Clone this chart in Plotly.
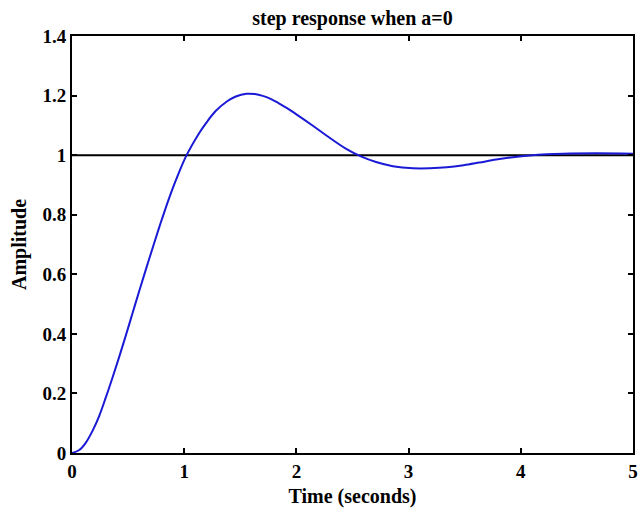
import plotly.graph_objects as go

# Step response samples
time_s = [0.0, 0.065, 0.124, 0.184, 0.243, 0.30, 0.36, 0.42, 0.48, 0.54, 0.60, 0.66, 0.72, 0.79,
          0.865, 0.925, 1.015, 1.13, 1.19, 1.28, 1.38, 1.46, 1.555, 1.63, 1.7, 1.77, 1.84, 1.92, 2.0,
          2.15, 2.29, 2.44, 2.58, 2.71, 2.86, 3.04, 3.19, 3.34, 3.49, 3.63, 3.78, 3.93, 4.08, 4.23,
          4.38, 4.67, 5.0]
amplitude = [0.0, 0.010, 0.035, 0.075, 0.125, 0.185, 0.252, 0.322, 0.395, 0.470, 0.545, 0.618, 0.690, 0.772,
             0.855, 0.915, 0.995, 1.072, 1.105, 1.148, 1.180, 1.197, 1.206, 1.205, 1.199, 1.189, 1.175, 1.157, 1.137,
             1.098, 1.060, 1.022, 0.995, 0.977, 0.963, 0.956, 0.956, 0.959, 0.966, 0.975, 0.985, 0.993, 0.999, 1.003,
             1.005, 1.006, 1.005]

steady_x = [0, 5]
steady_y = [1, 1]

x_ticks = [0, 1, 2, 3, 4, 5]
y_ticks = [0, 0.2, 0.4, 0.6, 0.8, 1, 1.2, 1.4]
y_tick_text = ["0", "0.2", "0.4", "0.6", "0.8", "1", "1.2", "1.4"]

fig = go.Figure()
fig.add_trace(go.Scatter(x=steady_x, y=steady_y, mode="lines",
                         line=dict(color="black", width=2), hoverinfo="skip"))
fig.add_trace(go.Scatter(x=time_s, y=amplitude, mode="lines", line_shape="spline",
                         line=dict(color="#1a1ad6", width=2, smoothing=1.0)))

font_serif = "Liberation Serif, Times New Roman, serif"
axis_common = dict(showgrid=False, zeroline=False, showline=True, linecolor="black",
                   linewidth=2, mirror="ticks", ticks="inside", ticklen=5, tickwidth=2,
                   tickcolor="black", automargin=False,
                   tickfont=dict(family=font_serif, size=19, color="black", weight="bold"))

fig.update_layout(
    width=639, height=508,
    margin=dict(l=72, r=6, t=36, b=55, autoexpand=False),
    paper_bgcolor="white", plot_bgcolor="white",
    showlegend=False,
    title=dict(text="<b>step response when a=0</b>", x=0.5, xref="paper", xanchor="center",
               y=1 - 18/508, yanchor="middle",
               font=dict(family=font_serif, size=20, color="black")),
    xaxis=dict(range=[0, 5], tickvals=x_ticks,
               title=dict(text="<b>Time (seconds)</b>", standoff=8,
                          font=dict(family=font_serif, size=20, color="black")),
               **axis_common),
    yaxis=dict(range=[0, 1.4], tickvals=y_ticks, ticktext=y_tick_text,
               title=dict(text="<b>Amplitude</b>", standoff=10,
                          font=dict(family=font_serif, size=20, color="black")),
               **axis_common),
)

fig.write_html("out.html", config={"displayModeBar": False},
               post_script="document.body.style.margin='0px';")
